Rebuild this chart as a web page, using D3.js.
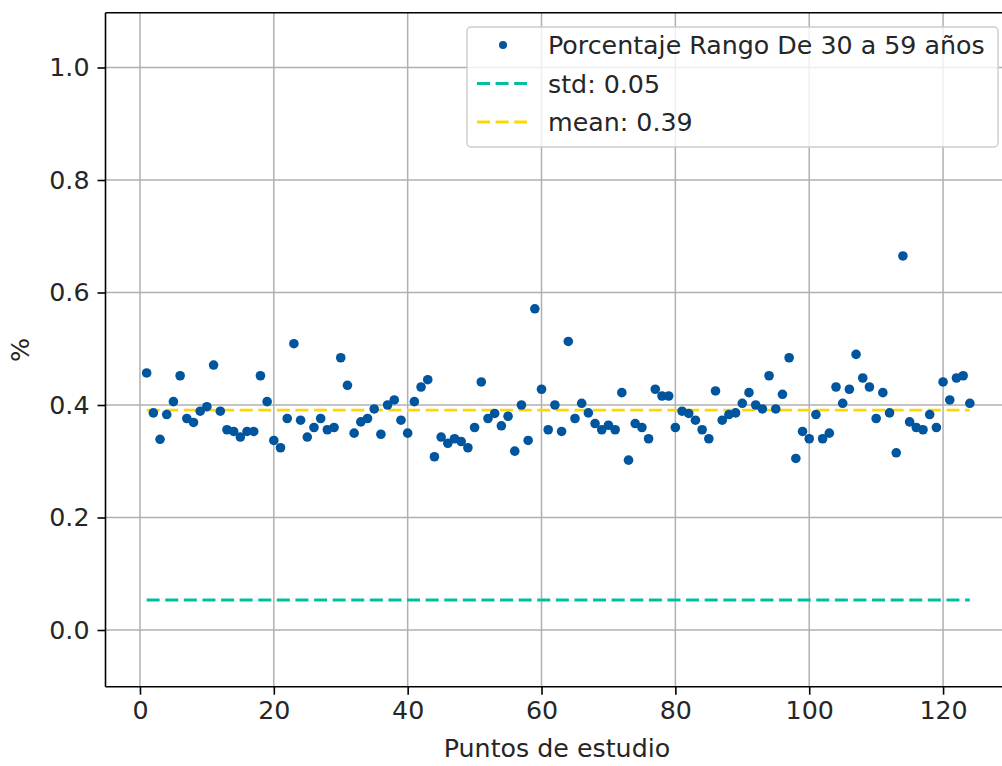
<!DOCTYPE html>
<html>
<head>
<meta charset="utf-8">
<script src="https://cdn.jsdelivr.net/npm/d3@7"></script>
<style>
  html, body { margin: 0; padding: 0; background: #fff; }
  svg { display: block; }
  text { font-family: "DejaVu Sans", sans-serif; fill: #262626; }
</style>
</head>
<body>
<svg id="chart" width="1002" height="766"></svg>
<script>
const values = [
  0.457, 0.386, 0.339, 0.383, 0.406, 0.452, 0.376, 0.369, 0.389, 0.397,
  0.471, 0.389, 0.356, 0.353, 0.343, 0.353, 0.353, 0.452, 0.406, 0.337,
  0.324, 0.376, 0.509, 0.373, 0.343, 0.360, 0.376, 0.356, 0.360, 0.484,
  0.435, 0.350, 0.370, 0.376, 0.393, 0.348, 0.400, 0.409, 0.373, 0.350,
  0.406, 0.432, 0.445, 0.308, 0.343, 0.332, 0.340, 0.335, 0.324, 0.360,
  0.441, 0.376, 0.385, 0.363, 0.380, 0.318, 0.400, 0.337, 0.571, 0.428,
  0.356, 0.400, 0.353, 0.513, 0.376, 0.403, 0.386, 0.367, 0.356, 0.364,
  0.356, 0.422, 0.302, 0.367, 0.360, 0.340, 0.428, 0.416, 0.416, 0.360,
  0.389, 0.385, 0.373, 0.356, 0.340, 0.425, 0.373, 0.383, 0.386, 0.403,
  0.422, 0.400, 0.393, 0.452, 0.393, 0.419, 0.484, 0.305, 0.353, 0.340,
  0.383, 0.340, 0.350, 0.432, 0.403, 0.428, 0.490, 0.448, 0.432, 0.376,
  0.422, 0.386, 0.315, 0.665, 0.370, 0.360, 0.356, 0.383, 0.360, 0.441,
  0.409, 0.448, 0.452, 0.403
];
const points = values.map((v, i) => ({ x: i + 1, y: v }));
const meanValue = 0.391;
const stdValue = 0.0533;
const xTicks = [0, 20, 40, 60, 80, 100, 120];
const yTicks = [0.0, 0.2, 0.4, 0.6, 0.8, 1.0];
const seriesLabel = "Porcentaje Rango De 30 a 59 años";
const stdLabel = "std: 0.05";
const meanLabel = "mean: 0.39";
const xLabel = "Puntos de estudio";
const yLabel = "%";

const colors = { dots: "#00559f", std: "#00bfa0", mean: "#ffd700", grid: "#b0b0b0" };

const svg = d3.select("#chart");
const plot = { left: 105.5, top: 12.7, bottom: 686.7, right: 1011 };

const x = d3.scaleLinear().domain([-5.15, 130.15]).range([plot.left, plot.right]);
const y = d3.scaleLinear().domain([0, 1]).range([630, 67.5]);

const fontSize = 25.3;
const dash = "13,5.6";
const dashWidth = 2.8;

// grid
const g = svg.append("g");
g.selectAll(".vgrid").data(xTicks).join("line")
  .attr("x1", d => x(d)).attr("x2", d => x(d))
  .attr("y1", plot.top).attr("y2", plot.bottom)
  .attr("stroke", colors.grid).attr("stroke-width", 1.5);
g.selectAll(".hgrid").data(yTicks).join("line")
  .attr("x1", plot.left).attr("x2", plot.right)
  .attr("y1", d => y(d)).attr("y2", d => y(d))
  .attr("stroke", colors.grid).attr("stroke-width", 1.5);

// std and mean lines
const lineGen = d3.line().x(d => x(d.x)).y(d => y(d.y));
const first = points[0].x, last = points[points.length - 1].x;
svg.append("path")
  .attr("d", lineGen([{ x: first, y: stdValue }, { x: last, y: stdValue }]))
  .attr("stroke", colors.std).attr("stroke-width", dashWidth).attr("fill", "none")
  .attr("stroke-dasharray", dash);
svg.append("path")
  .attr("d", lineGen([{ x: first, y: meanValue }, { x: last, y: meanValue }]))
  .attr("stroke", colors.mean).attr("stroke-width", dashWidth).attr("fill", "none")
  .attr("stroke-dasharray", dash);

// dots
svg.append("g").selectAll("circle").data(points).join("circle")
  .attr("cx", d => x(d.x)).attr("cy", d => y(d.y))
  .attr("r", 4.8).attr("fill", colors.dots);

// axes
const xAxis = d3.axisBottom(x).tickValues(xTicks).tickFormat(d3.format("d")).tickSize(8).tickPadding(6);
const yAxis = d3.axisLeft(y).tickValues(yTicks).tickFormat(d3.format(".1f")).tickSize(8).tickPadding(8);

const gx = svg.append("g").attr("transform", `translate(0,${plot.bottom})`).call(xAxis);
const gy = svg.append("g").attr("transform", `translate(${plot.left},0)`).call(yAxis);
[gx, gy].forEach(a => {
  a.select(".domain").remove();
  a.selectAll(".tick line").attr("stroke", "#000").attr("stroke-width", 1.6);
  a.selectAll(".tick text").attr("font-size", fontSize).attr("fill", "#262626")
    .attr("font-family", "DejaVu Sans");
});

// frame
svg.append("line").attr("x1", plot.left).attr("x2", plot.left).attr("y1", plot.top).attr("y2", plot.bottom)
  .attr("stroke", "#000").attr("stroke-width", 1.6);
svg.append("line").attr("x1", plot.left).attr("x2", plot.right).attr("y1", plot.bottom).attr("y2", plot.bottom)
  .attr("stroke", "#000").attr("stroke-width", 1.6);
svg.append("line").attr("x1", plot.left).attr("x2", plot.right).attr("y1", plot.top).attr("y2", plot.top)
  .attr("stroke", "#000").attr("stroke-width", 1.6);

// axis labels
svg.append("text").attr("x", 557).attr("y", 757).attr("text-anchor", "middle")
  .attr("font-size", fontSize).text(xLabel);
svg.append("text").attr("transform", "translate(29,350) rotate(-90)").attr("text-anchor", "middle")
  .attr("font-size", fontSize).text(yLabel);

// legend
const lg = svg.append("g");
lg.append("rect").attr("x", 467).attr("y", 27).attr("width", 531).attr("height", 120)
  .attr("rx", 4).attr("fill", "#fff").attr("fill-opacity", 0.8)
  .attr("stroke", "#cccccc").attr("stroke-width", 1.4);
const legendItems = [
  { type: "dot", color: colors.dots, label: seriesLabel },
  { type: "line", color: colors.std, label: stdLabel },
  { type: "line", color: colors.mean, label: meanLabel }
];
legendItems.forEach((it, i) => {
  const cy = 45 + i * 38.5;
  if (it.type === "dot") {
    lg.append("circle").attr("cx", 503).attr("cy", cy).attr("r", 4).attr("fill", it.color);
  } else {
    lg.append("line").attr("x1", 477).attr("x2", 527).attr("y1", cy).attr("y2", cy)
      .attr("stroke", it.color).attr("stroke-width", dashWidth).attr("stroke-dasharray", dash);
  }
  lg.append("text").attr("x", 548).attr("y", cy).attr("dy", "0.36em")
    .attr("font-size", fontSize).text(it.label);
});
</script>
</body>
</html>
